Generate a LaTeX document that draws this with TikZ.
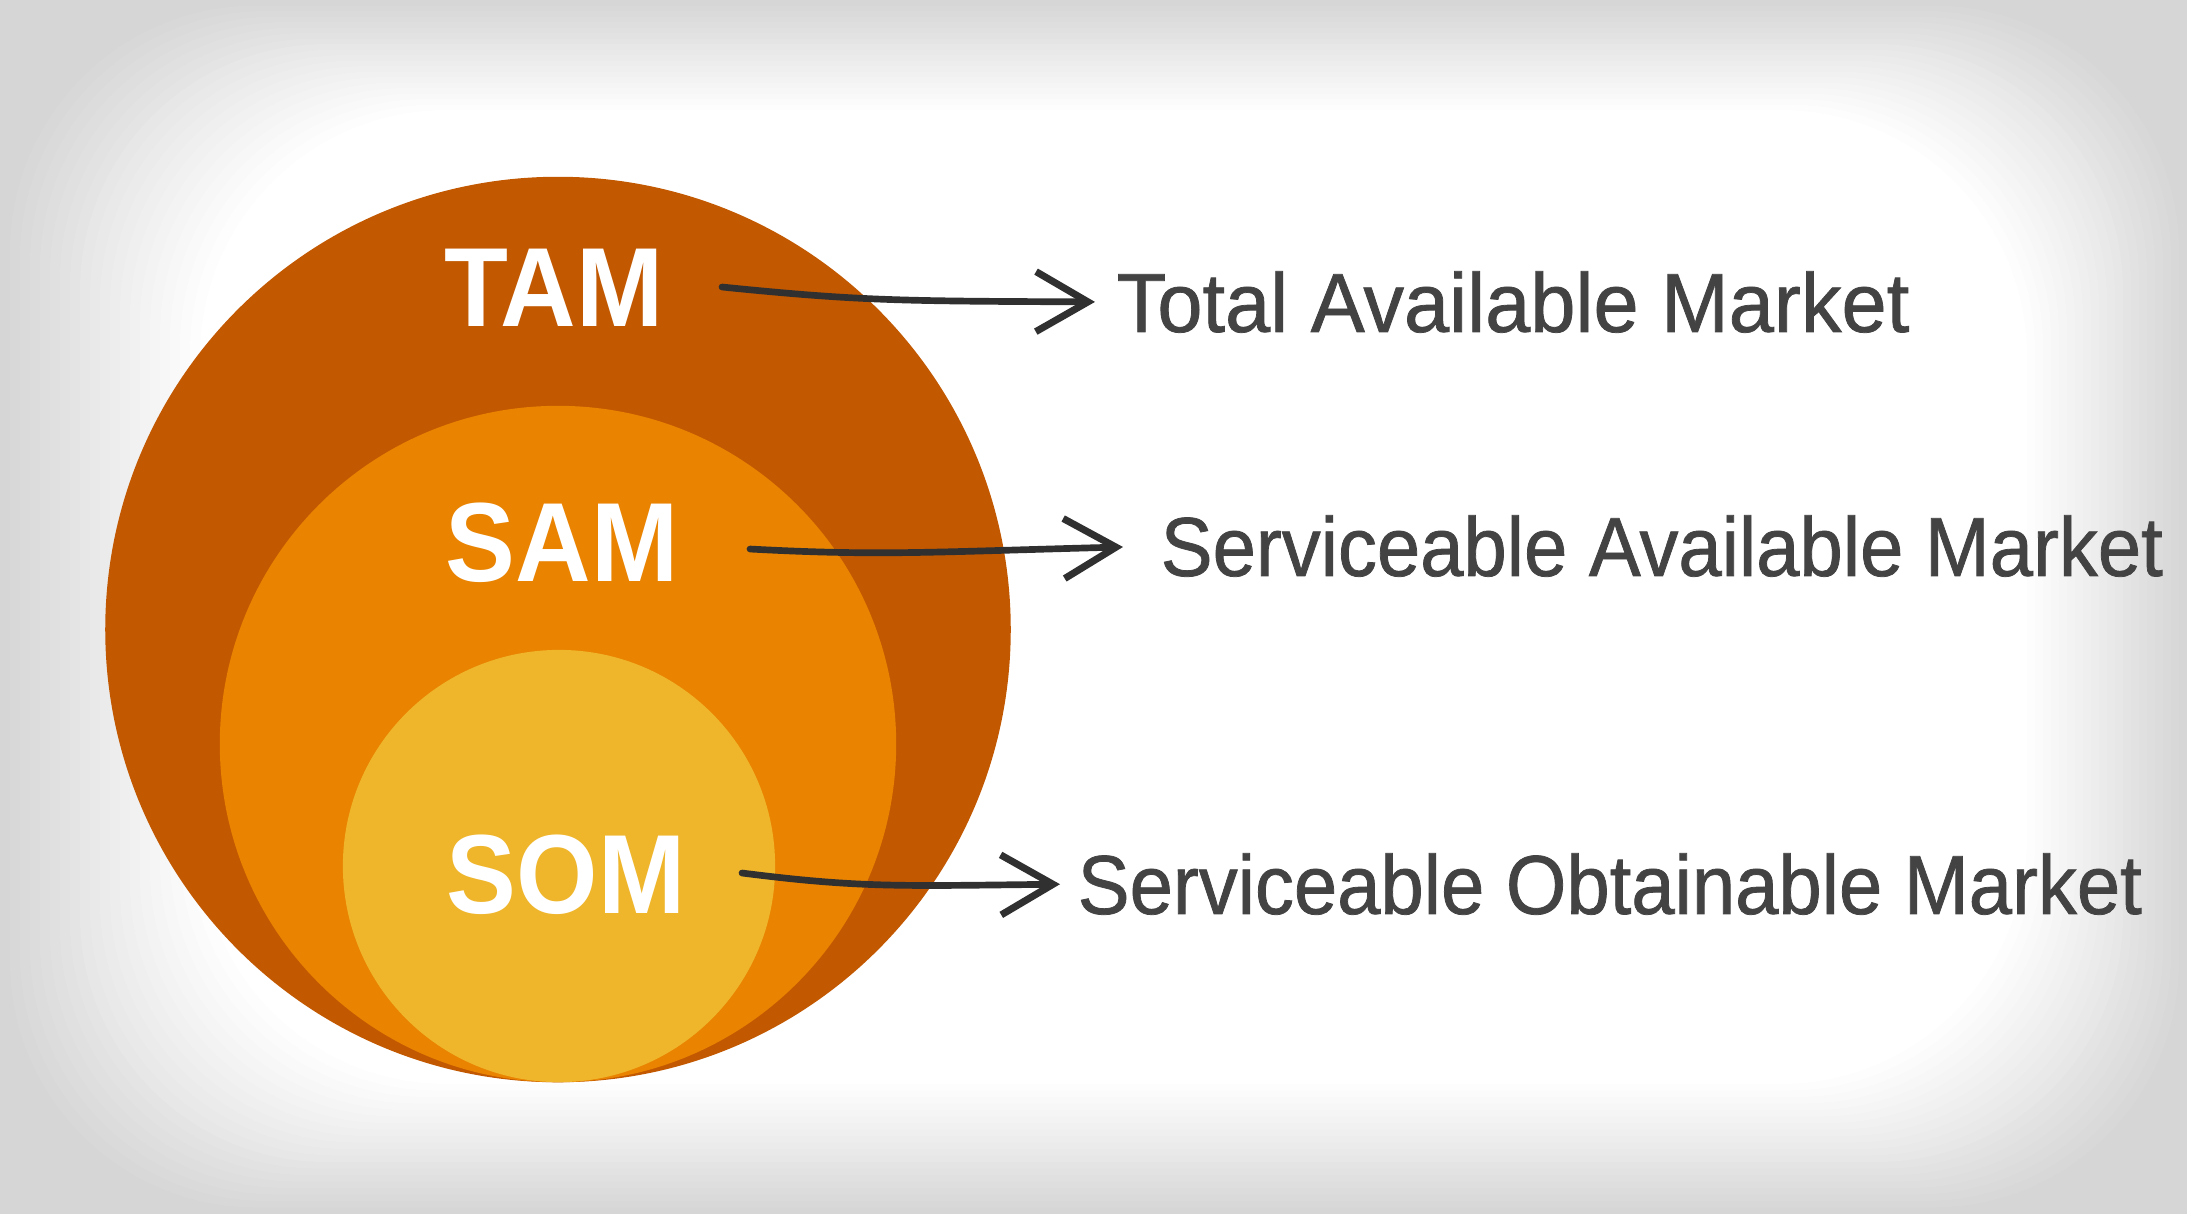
\documentclass[tikz,border=0pt]{standalone}
\usepackage{fontspec}
\setmainfont{Liberation Sans}
\newfontfamily\abbrfont{Liberation Sans}[FakeStretch=0.93]
\newfontfamily\descfont{Liberation Sans}[FakeStretch=0.93,FakeBold=0.9]
\newfontfamily\descwidefont{Liberation Sans}[FakeStretch=0.97,FakeBold=0.9]
\usetikzlibrary{arrows.meta}
\definecolor{tamorange}{HTML}{C25800}
\definecolor{samorange}{HTML}{E98300}
\definecolor{somyellow}{HTML}{EFB52B}
\definecolor{lblgray}{HTML}{434343}
\definecolor{inkgray}{HTML}{303030}
\definecolor{bgedge}{HTML}{D6D6D6}
\begin{document}
\begin{tikzpicture}[x=0.01cm,y=-0.01cm]
    \tikzstyle{disc} = [circle, draw=none, inner sep=0]
    \tikzstyle{abbr} = [inner sep=0, text=white, font=\abbrfont\fontsize{32}{32}\selectfont\bfseries]
    \tikzstyle{desc} = [inner sep=0, anchor=west, text=lblgray, font=\descfont\fontsize{23.8}{24}\selectfont]
    \tikzstyle{pointer} = [draw=inkgray, line width=1.9pt, line cap=round,
        -{Straight Barb[length=5.2mm,width=6mm,line width=2pt]}]
    \useasboundingbox (0,0) rectangle (2187,1214);
    % background
    \fill[bgedge] (0,0) rectangle (2187,1214);
    \foreach \i [evaluate=\i as \mix using int(5*\i)] in {1,...,20}
        \fill[white!\mix!bgedge,rounded corners=70] (\i*10,\i*5.5) rectangle (2187-\i*8,1214-\i*6.5);
    % circles
    \node[disc,fill=tamorange,minimum size=9.05cm] (tam) at (558,629.5) {};
    \node[disc,fill=samorange,minimum size=6.76cm] (sam) at (558,744) {};
    \node[disc,fill=somyellow,minimum size=4.32cm] (som) at (559,866) {};
    % abbreviations
    \node[abbr] (tamtxt) at (554,288) {TAM};
    \node[abbr] (samtxt) at (562,543) {SAM};
    \node[abbr] (somtxt) at (566,875) {SOM};
    % descriptions
    \node[desc,font=\descwidefont\fontsize{23.8}{24}\selectfont] (tamlbl) at (1116,302) {Total Available Market};
    \node[desc] (samlbl) at (1160,546) {Serviceable Available Market};
    \node[desc] (somlbl) at (1077,884) {Serviceable Obtainable Market};
    % arrows
    \coordinate (tamstart) at (722,287);
    \coordinate (samstart) at (750,549);
    \coordinate (somstart) at (742,873);
    \draw[pointer,shorten >=0.21cm] (tamstart) .. controls (860,301) and (900,301) .. (tamlbl.west);
    \draw[pointer,shorten >=0.37cm] (samstart) .. controls (880,556) and (930,552) .. (samlbl.west);
    \draw[pointer,shorten >=0.17cm] (somstart) .. controls (860,888) and (900,886) .. (somlbl.west);
\end{tikzpicture}
\end{document}
